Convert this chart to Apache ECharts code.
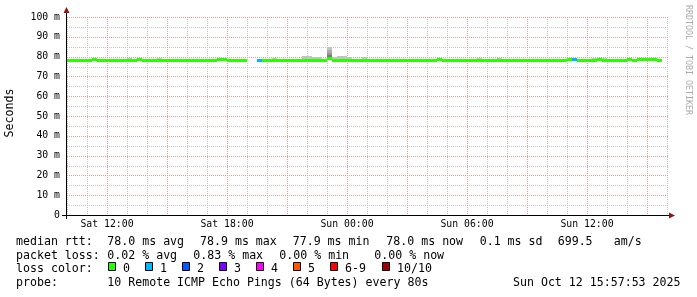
<!DOCTYPE html>
<html><head><meta charset="utf-8">
<script src="https://cdn.jsdelivr.net/npm/echarts@6/dist/echarts.min.js"></script>
<style>html,body{margin:0;padding:0;background:#fff}#c{width:697px;height:297px}</style>
</head><body><div id="c"></div>
<script>
// ---- time axis (hours since Sat 00:00) ----
const startHour = 10;
const stepHours = 0.25;
const xMin = 10, xMax = 40;
const labelHours = [12, 18, 24, 30, 36];
const labelTexts = ['Sat 12:00', 'Sat 18:00', 'Sun 00:00', 'Sun 06:00', 'Sun 12:00'];
const majorHours = [12, 15, 18, 21, 24, 27, 30, 33, 36, 39];

// ---- y axis ----
const yMin = 0, yMax = 100, yStep = 10;
const majorMs = [10, 20, 30, 40, 50, 60, 70, 80, 90, 100];
const minorMs = [5, 15, 25, 35, 45, 55, 65, 75, 85, 95];

// ---- median rtt (ms), one value per 15-minute step ----
const median = [
  78.0,78.0,78.0,78.0,78.0,78.3,78.0,78.0,78.0,78.0,
  78.0,78.0,78.0,78.0,78.3,78.0,78.0,78.0,78.0,78.0,
  78.0,78.0,78.0,78.0,78.0,78.0,78.0,78.0,78.0,78.0,
  78.3,78.3,78.0,78.0,78.0,78.0,null,null,78.0,78.0,
  78.0,78.0,78.0,78.0,78.0,78.0,78.0,78.0,78.0,78.0,
  78.0,77.9,78.9,78.0,78.0,78.0,78.0,78.0,78.0,78.0,
  78.0,78.0,78.0,78.0,78.0,78.0,78.0,78.0,78.0,78.0,
  78.0,78.0,78.0,78.0,78.3,78.0,78.0,78.0,78.0,78.0,
  78.0,78.0,78.0,78.0,78.0,78.0,78.0,78.0,78.0,78.0,
  78.0,78.0,78.0,78.0,78.0,78.0,78.0,78.0,78.0,78.0,
  78.3,78.5,78.0,78.0,78.0,78.0,78.3,78.0,78.0,78.0,
  78.0,78.0,78.3,78.0,78.3,78.3,78.3,78.3,78.0
];
// ---- smoke: highest ping per step (ms) ----
const smokeHi = [
  78.3,78.6,78.6,78.6,78.3,78.5,78.3,78.3,78.3,78.3,
  78.3,78.3,79.5,78.3,78.3,78.3,78.3,78.3,79.5,78.3,
  78.3,79.0,78.3,78.3,78.3,78.3,78.9,78.9,78.3,78.3,
  78.3,78.3,78.3,78.8,78.8,78.3,null,null,78.3,78.3,
  78.3,79.2,78.3,78.3,78.3,78.3,78.3,80.4,80.4,79.9,
  79.9,79.0,84.8,79.9,80.5,80.5,80.0,79.0,78.3,80.0,
  79.0,78.3,78.3,78.3,78.3,78.3,78.7,78.3,78.3,78.3,
  78.8,78.8,78.3,78.3,78.3,78.3,78.3,78.3,78.9,78.3,
  78.3,78.3,79.4,78.3,78.3,78.3,79.4,78.8,78.8,78.3,
  78.8,78.8,78.3,78.8,78.3,78.3,78.6,78.6,78.6,78.6,
  78.3,79.4,78.8,78.8,78.3,79.4,78.3,79.4,78.3,78.8,
  78.3,78.3,79.4,78.3,78.5,78.5,78.5,78.5,78.8
];
// denser smoke layers (inner pings) for the spike step
const smokeInnerIdx = [52];
const smokeLayer2 = [83.3];
const smokeLayer3 = [82.0];
const smokeLayer4 = [80.7];
// ---- packet loss (pings lost of 10) for steps that lost any ----
const lossIdx = [38, 101];
const lossCount = [1, 1];

// ---- legend ----
const lossColors = ['#26ff00','#00b8ff','#0059ff','#7e00ff','#ff00ff','#ff5500','#ff0000','#a10000'];
const lossLabels = ['0','1','2','3','4','5','6-9','10/10'];
const smokeShades = ['#c2c2c2','#acacac','#969696','#7a7a7a'];
const gridColors = ['#c6c6c6', '#ec9a9a'];

function lossColorIndex(n){ if(n<=5) return n; if(n<10) return 6; return 7; }

const times = median.map((_, i) => startHour + i * stepHours);
const lossAt = i => { const k = lossIdx.indexOf(i); return k < 0 ? 0 : lossCount[k]; };

const lineData = [];
median.forEach((m, i) => {
  if (m == null) return;
  lineData.push([times[i], times[i] + stepHours, m, lossColorIndex(lossAt(i))]);
});
const smokeData = [];
smokeHi.forEach((h, i) => {
  if (h == null || median[i] == null) return;
  smokeData.push([times[i], times[i] + stepHours, median[i], h, 0]);
});
smokeInnerIdx.forEach((i, k) => {
  smokeData.push([times[i], times[i] + stepHours, median[i], smokeLayer2[k], 1]);
  smokeData.push([times[i], times[i] + stepHours, median[i], smokeLayer3[k], 2]);
  smokeData.push([times[i], times[i] + stepHours, median[i], smokeLayer4[k], 3]);
});
// grid lines: [value, vertical(1)/horizontal(0), major(1)/minor(0)]
const gridData = [];
for (let h = xMin; h <= xMax; h++) if (majorHours.indexOf(h) < 0) gridData.push([h, 1, 0]);
majorHours.forEach(h => gridData.push([h, 1, 1]));
minorMs.forEach(v => gridData.push([v, 0, 0]));
majorMs.forEach(v => gridData.push([v, 0, 1]));

const MONO = '"DejaVu Sans Mono", monospace';
const chart = echarts.init(document.getElementById('c'), null, { renderer: 'canvas' });

function txt(x, y, s, extra) {
  return Object.assign({
    type: 'text', x: x, y: y, silent: true, z: 50,
    style: Object.assign({ text: s, fill: '#000', font: '11.6px ' + MONO, textAlign: 'left', textVerticalAlign: 'middle', verticalAlign: 'middle' }, (extra && extra.style) || {})
  }, extra && extra.rot != null ? { rotation: extra.rot } : {});
}

const graphics = [];
graphics.push({ type: 'line', silent: true, z: 40, shape: { x1: 62, y1: 215.5, x2: 670, y2: 215.5 }, style: { stroke: '#000', lineWidth: 1 } });
graphics.push({ type: 'line', silent: true, z: 40, shape: { x1: 66.5, y1: 219, x2: 66.5, y2: 12 }, style: { stroke: '#000', lineWidth: 1 } });
graphics.push({ type: 'polygon', silent: true, z: 41, shape: { points: [[63.5, 13], [69.5, 13], [66.5, 7]] }, style: { fill: '#8b1515' } });
graphics.push({ type: 'polygon', silent: true, z: 41, shape: { points: [[669, 212.5], [669, 218.5], [675, 215.5]] }, style: { fill: '#8b1515' } });
graphics.push(txt(10, 113, 'Seconds', { rot: Math.PI / 2, style: { textAlign: 'center' } }));
graphics.push(txt(688, 60, 'RRDTOOL / TOBI OETIKER', { rot: -Math.PI / 2, style: { textAlign: 'center', fill: '#ababab', font: '8.3px ' + MONO } }));
const row1 = [[16,'median rtt:'],[107.3,'78.0 ms avg'],[200,'78.9 ms max'],[292.7,'77.9 ms min'],[386.3,'78.0 ms now'],[479.7,'0.1 ms sd'],[557.7,'699.5'],[613.7,'am/s']];
const row2 = [[16,'packet loss:'],[107.3,'0.02 % avg'],[193.3,'0.83 % max'],[279.3,'0.00 % min'],[374.3,'0.00 % now']];
row1.forEach(([x, s]) => graphics.push(txt(x, 241.5, s)));
row2.forEach(([x, s]) => graphics.push(txt(x, 255.5, s)));
graphics.push(txt(16, 269.3, 'loss color:'));
const boxX = [108.5, 145.5, 182.5, 219.5, 256.5, 293.5, 330.5, 382.5];
boxX.forEach((x, k) => {
  graphics.push({ type: 'rect', silent: true, z: 50, shape: { x: x, y: 262.5, width: 7, height: 8 }, style: { fill: lossColors[k], stroke: '#000', lineWidth: 1 } });
  graphics.push(txt(x + 14.5, 269.3, lossLabels[k]));
});
graphics.push(txt(16, 283.3, 'probe:'));
graphics.push(txt(107.3, 283.3, '10 Remote ICMP Echo Pings (64 Bytes) every 80s'));
graphics.push(txt(680.5, 283.3, 'Sun Oct 12 15:57:53 2025', { style: { textAlign: 'right' } }));

chart.setOption({
  animation: false,
  backgroundColor: '#fff',
  grid: { left: 67, top: 17, width: 600, height: 198 },
  xAxis: {
    type: 'value', min: xMin, max: xMax, interval: 1,
    axisLine: { show: false }, axisTick: { show: false }, splitLine: { show: false },
    axisLabel: {
      show: true, margin: 4, color: '#000', fontFamily: MONO, fontSize: 9.8,
      formatter: v => { const k = labelHours.indexOf(Math.round(v)); return k < 0 ? '' : labelTexts[k]; }
    }
  },
  yAxis: {
    type: 'value', min: yMin, max: yMax, interval: yStep,
    axisLine: { show: false }, axisTick: { show: false }, splitLine: { show: false },
    axisLabel: { margin: 7, color: '#000', fontFamily: MONO, fontSize: 9.8, formatter: v => v === 0 ? '0' : v + ' m' }
  },
  series: [{
    type: 'custom', name: 'grid', z: 1, silent: true, clip: false,
    dimensions: ['v', 'vertical', 'major'],
    encode: { x: -1, y: -1 },
    data: gridData,
    renderItem: (params, api) => {
      const v = api.value(0), vert = api.value(1) === 1, major = api.value(2) === 1;
      let x1, y1, x2, y2;
      if (vert) {
        const p = api.coord([v, yMin]), q = api.coord([v, yMax]);
        x1 = x2 = Math.round(p[0]) + 0.5; y1 = Math.round(q[1]); y2 = Math.round(p[1]);
      } else {
        const p = api.coord([xMin, v]), q = api.coord([xMax, v]);
        y1 = y2 = Math.round(p[1]) + 0.5; x1 = Math.round(p[0]); x2 = Math.round(q[0]) + 1;
      }
      return { type: 'line', z2: major ? 2 : 1, shape: { x1, y1, x2, y2 }, style: { stroke: gridColors[major ? 1 : 0], lineWidth: 1, lineDash: [1, 1], fill: null } };
    }
  }, {
    type: 'custom', name: 'smoke', z: 5, silent: true,
    dimensions: ['t0', 't1', 'lo', 'hi', 'shade'],
    encode: { x: [0, 1], y: [2, 3] },
    data: smokeData,
    renderItem: (params, api) => {
      const a = api.coord([api.value(0), api.value(3)]);
      const b = api.coord([api.value(1), api.value(2)]);
      return { type: 'rect', shape: { x: a[0], y: Math.round(a[1]), width: b[0] - a[0], height: Math.round(b[1]) - Math.round(a[1]) }, style: { fill: smokeShades[api.value(4)] } };
    }
  }, {
    type: 'custom', name: 'median rtt', z: 6, silent: true,
    dimensions: ['t0', 't1', 'rtt', 'loss'],
    encode: { x: [0, 1], y: 2 },
    data: lineData,
    renderItem: (params, api) => {
      const a = api.coord([api.value(0), api.value(2)]);
      const b = api.coord([api.value(1), api.value(2)]);
      return { type: 'rect', shape: { x: a[0], y: Math.round(a[1] - 1.5), width: b[0] - a[0], height: 3 }, style: { fill: lossColors[api.value(3)] } };
    }
  }],
  graphic: graphics
});
</script></body></html>
